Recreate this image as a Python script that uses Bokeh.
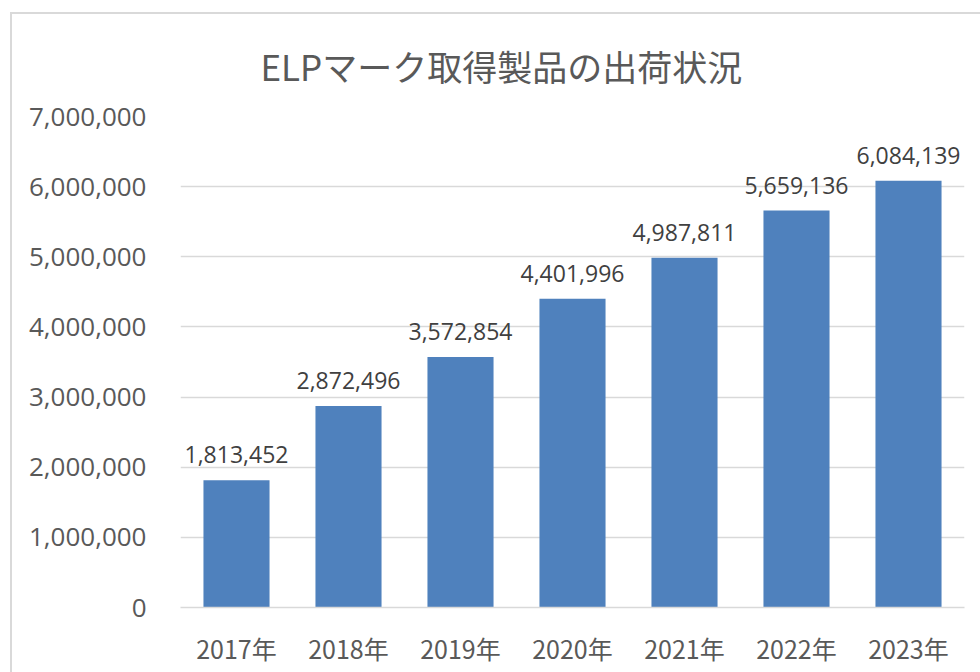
from bokeh.plotting import figure
from bokeh.models import ColumnDataSource, FactorRange, Range1d, LabelSet, NumeralTickFormatter, FixedTicker
from bokeh.core.properties import value
from bokeh.embed import file_html
from bokeh.resources import INLINE

years = ["2017年", "2018年", "2019年", "2020年", "2021年", "2022年", "2023年"]
shipments = [1813452, 2872496, 3572854, 4401996, 4987811, 5659136, 6084139]
y_ticks = [0, 1000000, 2000000, 3000000, 4000000, 5000000, 6000000, 7000000]
title_text = "ELPマーク取得製品の出荷状況"

labels = [f"{v:,}" for v in shipments]
src = ColumnDataSource(dict(year=years, value=shipments, label=labels))

p = figure(
    x_range=FactorRange(*years),
    y_range=Range1d(0, 7000000),
    width=970, height=660,
    output_backend="svg", toolbar_location=None,
    min_border_left=168, min_border_right=18, min_border_top=102, min_border_bottom=67,
    styles={"margin-left": "10px", "margin-top": "12px",
            "border-left": "2px solid #d9d9d9", "border-top": "2px solid #d9d9d9"},
)
p.outline_line_color = None
p.background_fill_color = "white"
p.border_fill_color = "white"

p.title.text = title_text
p.title.text_font = "Noto Sans CJK JP"
p.title.text_font_size = "35px"
p.title.text_font_style = "normal"
p.title.text_color = "#595959"
p.title.align = "left"
p.title.vertical_align = "top"
p.title.offset = 80
p.title.standoff = 47

p.vbar(x="year", top="value", width=0.59, source=src, fill_color="#4f81bd", line_color=None)

p.add_layout(LabelSet(x="year", y="value", text="label", source=src, y_offset=17,
                      text_align="center", text_baseline="bottom",
                      text_font_size="23px", text_color="#404040", text_font=value("Open Sans")))

p.yaxis.ticker = FixedTicker(ticks=y_ticks)
p.yaxis.formatter = NumeralTickFormatter(format="0,0")
p.yaxis.axis_line_color = None
p.yaxis.major_tick_line_color = None
p.yaxis.minor_tick_line_color = None
p.yaxis.major_tick_out = 0
p.yaxis.major_label_standoff = 34
p.yaxis.major_label_text_font = "Open Sans"
p.yaxis.major_label_text_font_size = "26px"
p.yaxis.major_label_text_color = "#595959"

p.xaxis.axis_line_color = "#d9d9d9"
p.xaxis.axis_line_width = 1.5
p.xaxis.major_tick_line_color = None
p.xaxis.minor_tick_line_color = None
p.xaxis.major_tick_out = 0
p.xaxis.major_label_standoff = 22
p.xaxis.major_label_text_font = "Noto Sans CJK JP"
p.xaxis.major_label_text_font_size = "25px"
p.xaxis.major_label_text_color = "#595959"

p.xgrid.grid_line_color = None
p.ygrid.grid_line_color = "#d9d9d9"
p.ygrid.grid_line_width = 1.5

open("out.html", "w").write(file_html(p, INLINE))
